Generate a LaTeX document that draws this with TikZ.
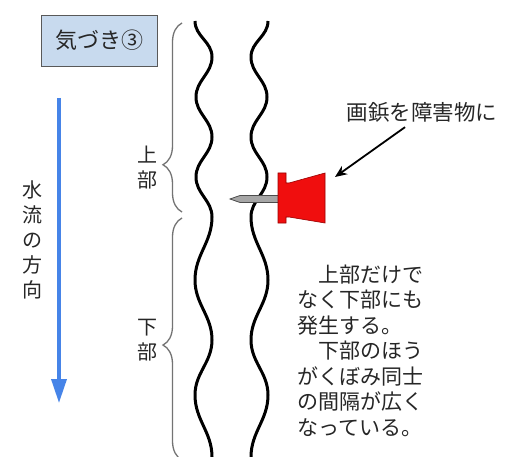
\documentclass[tikz,border=0pt]{standalone}
\usepackage{fontspec}
\setmainfont{Noto Sans CJK JP}
\usetikzlibrary{arrows.meta, decorations.pathreplacing}

\definecolor{titlefill}{RGB}{200,218,238}
\definecolor{flowblue}{RGB}{70,132,232}
\definecolor{pinred}{RGB}{240,14,14}

\tikzstyle{title} = [rectangle, draw=black!65, fill=titlefill, minimum width=116pt, minimum height=51pt, text centered, text=black!85, font=\fontsize{22}{26}\selectfont]
\tikzstyle{vlabel} = [align=center, inner sep=0pt, text=black!85, font=\fontsize{20}{25}\selectfont]
\tikzstyle{note} = [align=left, inner sep=0pt, text=black!85, font=\fontsize{21}{25.5}\selectfont]
\tikzstyle{wall} = [line width=3pt, black]
\tikzstyle{part} = [decorate, decoration={brace, mirror, amplitude=19pt}, draw=black!55, line width=1.3pt]
\tikzstyle{flow} = [line width=3.5pt, draw=flowblue, -{Triangle[length=24pt, width=15pt]}]
\tikzstyle{arrow} = [line width=1.8pt,-{Stealth[length=12pt, width=10pt]}]

\begin{document}
\begin{tikzpicture}[x=1pt, y=-1pt]
		\useasboundingbox [fill=white] (0,0) rectangle (511,457);

		\node (kizuki) [title] at (99,40.5) {気づき③};

		% direction of the water
		\coordinate (flowtop) at (59,98);
		\coordinate (flowend) at (59,403);
		\draw [flow] (flowtop) -- (flowend);
		\node (flowlabel) [vlabel] at (33,240) {水\\流\\の\\方\\向};

		% the two banks of the channel
		\draw [wall] (195,21) to[out=-90,in=90] (212,57) to[out=-90,in=90] (196,97) to[out=-90,in=90] (212,137) to[out=-90,in=90] (196,177) to[out=-90,in=90] (212,217) to[out=-90,in=90] (195,280) to[out=-90,in=90] (212,340) to[out=-90,in=90] (195,395) to[out=-90,in=90] (212,457);
		\draw [wall] (268,21) to[out=-90,in=90] (251,57) to[out=-90,in=90] (267,97) to[out=-90,in=90] (251,137) to[out=-90,in=90] (267,177) to[out=-90,in=90] (251,217) to[out=-90,in=90] (268,280) to[out=-90,in=90] (251,340) to[out=-90,in=90] (268,395) to[out=-90,in=90] (251,457);

		% upper and lower part
		\coordinate (uppertop) at (182,23);
		\coordinate (upperbot) at (182,212);
		\coordinate (lowertop) at (182,218);
		\coordinate (lowerbot) at (182,460);
		\draw [part, decoration={aspect=0.75}] (uppertop) -- (upperbot);
		\draw [part, decoration={aspect=0.525}] (lowertop) -- (lowerbot);
		\node (upper) [vlabel] at (147,168) {上\\部};
		\node (lower) [vlabel] at (147,340) {下\\部};

		% the push pin
		\filldraw [fill=black!35, draw=black!70, line width=0.8pt] (230,199) -- (240,195.5) -- (279,195.5) -- (279,202.5) -- (240,202.5) -- cycle;
		\filldraw [fill=pinred, draw=red!60!black, line width=0.6pt] (278,173) -- (286,173) -- (286,183) -- (289,183) -- (325,173) -- (325,223) -- (289,217) -- (286,217) -- (286,223) -- (278,223) -- cycle;
		\coordinate (pin) at (335,177);

		\node (pinlabel) [vlabel, font=\fontsize{21.5}{26}\selectfont] at (422,112) {画鋲を障害物に};
		\draw [arrow] ([xshift=-17pt,yshift=-5pt]pinlabel.south) -- (pin);

		\node (remark) [note, anchor=north west] at (297,264.5) {　上部だけで\\なく下部にも\\発生する。\\　下部のほう\\がくぼみ同士\\の間隔が広く\\なっている。};

\end{tikzpicture}
\end{document}
